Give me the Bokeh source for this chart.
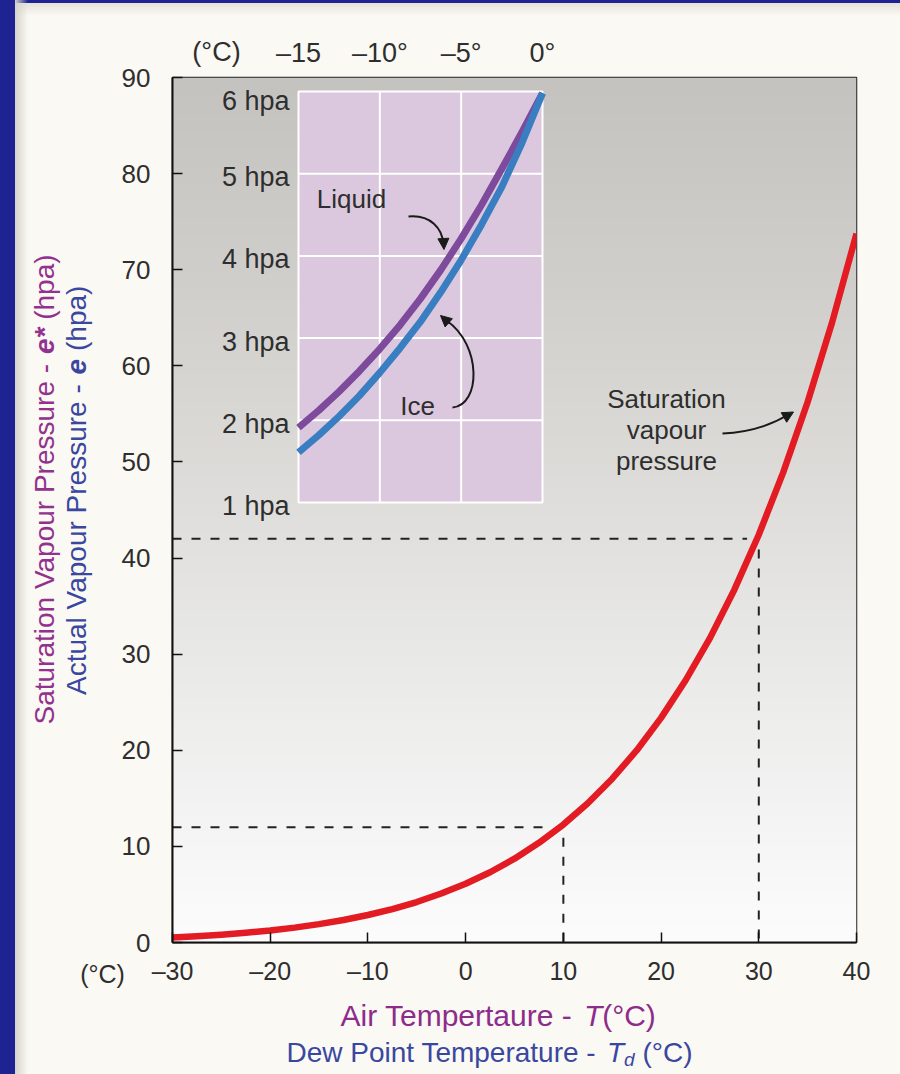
import numpy as np
from bokeh.plotting import figure
from bokeh.models import Range1d, LinearAxis, FixedTicker, Label, Arrow, NormalHead
from bokeh.embed import file_html
from bokeh.resources import INLINE
from bokeh.core.properties import value

# ---------------- data ----------------
air_temp = [-30, -27.5, -25, -22.5, -20, -17.5, -15, -12.5, -10, -7.5, -5, -2.5, 0,
            2.5, 5, 7.5, 10, 12.5, 15, 17.5, 20, 22.5, 25, 27.5, 30, 32.5, 35, 37.5, 40]
sat_vp = [0.51, 0.64, 0.81, 1.01, 1.25, 1.55, 1.91, 2.34, 2.86, 3.48, 4.21, 5.10, 6.11,
          7.31, 8.72, 10.37, 12.27, 14.49, 17.04, 19.98, 23.37, 27.26, 31.67, 36.71,
          42.43, 48.91, 56.24, 64.51, 73.75]

inset_temp = [-15, -13.75, -12.5, -11.25, -10, -8.75, -7.5, -6.25, -5, -3.75, -2.5, -1.25, 0]
liquid_vp = [1.91, 2.12, 2.35, 2.60, 2.87, 3.16, 3.48, 3.83, 4.21, 4.62, 5.06, 5.51, 5.98]
ice_vp = [1.61, 1.82, 2.05, 2.30, 2.58, 2.88, 3.20, 3.56, 3.95, 4.38, 4.84, 5.38, 5.98]

x_ticks = [-30, -20, -10, 0, 10, 20, 30, 40]
x_tick_labels = ["–30", "–20", "–10", "0", "10", "20", "30", "40"]
y_ticks = [0, 10, 20, 30, 40, 50, 60, 70, 80, 90]
inset_x_ticks = [-15, -10, -5, 0]
inset_x_labels = ["–15", "–10°", "–5°", "0°"]
inset_y_ticks = [1, 2, 3, 4, 5, 6]
inset_y_labels = ["1 hpa", "2 hpa", "3 hpa", "4 hpa", "5 hpa", "6 hpa"]

example_T = [10, 30]
example_e = [12, 42]

# ---------------- geometry helpers (page pixel -> data) ----------------
W, H = 900, 1074
FL, FR, FT, FB = 172, 856, 77, 942
def dx(px):
    return -30 + (px - FL) * 70.0 / (FR - FL)
def dy(py):
    return (FB - py) * 90.0 / (FB - FT)

# inset mapping: -15 -> 298px, 0 -> 542px ; 1 hpa -> 502px, 6 hpa -> 91px
isx = (542 - 298) / 15.0
isy = (502 - 91) / 5.0
ix0 = -15 - (298 - FL) / isx
ix1 = 0 + (FR - 542) / isx
iy0 = 1 - (FB - 502) / isy
iy1 = 6 + (91 - FT) / isy

FNAME = "Liberation Sans"
FONT = value(FNAME)
MAG = "#8e2c8c"
MAG2 = "#93318f"
BLU = "#3a47a0"
TXT = "#2e2e2e"

p = figure(frame_width=FR - FL, frame_height=FB - FT,
           x_range=Range1d(-30, 40), y_range=Range1d(0, 90),
           output_backend="svg", toolbar_location=None,
           min_border_left=FL, min_border_right=W - FR,
           min_border_top=FT, min_border_bottom=H - FB)
p.extra_x_ranges = {"ix": Range1d(ix0, ix1)}
p.extra_y_ranges = {"iy": Range1d(iy0, iy1)}
p.border_fill_color = None
p.background_fill_color = "#f0f0f0"
p.outline_line_color = "#222222"
p.outline_line_width = 1.5
p.grid.visible = False
p.styles = {"background": "linear-gradient(to right, #1f2291 0px, #1f2291 15px, #d6d3cc 15px, rgba(251,249,243,0) 28px), "
                          "linear-gradient(to bottom, #1f2291 0px, #1f2291 3px, #e4e1da 3px, #fbf9f3 16px)"}

# background gradient of plot area
gv = [0, 10, 30, 50, 70, 90]
gc = [(252, 252, 252), (246, 246, 246), (233, 233, 232), (220, 219, 216), (208, 206, 203), (197, 195, 192)]
n = 240
ys = np.linspace(0, 90, n)
img = np.zeros((n, 2), dtype=np.uint32)
view = img.view(dtype=np.uint8).reshape((n, 2, 4))
for k in range(3):
    ch = np.interp(ys, gv, [c[k] for c in gc]).astype(np.uint8)
    view[:, 0, k] = ch
    view[:, 1, k] = ch
view[:, :, 3] = 255
p.image_rgba(image=[img], x=-30, y=0, dw=70, dh=90)

# axes
xa = p.xaxis[0]
xa.ticker = FixedTicker(ticks=x_ticks)
xa.major_label_overrides = dict(zip(x_ticks, x_tick_labels))
ya = p.yaxis[0]
ya.ticker = FixedTicker(ticks=y_ticks)
for ax in (xa, ya):
    ax.major_tick_in = 10
    ax.major_tick_out = 0
    ax.minor_tick_line_color = None
    ax.axis_line_width = 2
    ax.axis_line_color = "#111111"
    ax.major_tick_line_color = "#111111"
    ax.major_tick_line_width = 1.5
    ax.major_label_text_font = FNAME
    ax.major_label_text_color = TXT
xa.major_label_text_font_size = "25px"
xa.major_label_standoff = 14
ya.major_label_text_font_size = "26px"
ya.major_label_standoff = 22

top = LinearAxis(x_range_name="ix", ticker=FixedTicker(ticks=inset_x_ticks),
                 major_label_overrides=dict(zip(inset_x_ticks, inset_x_labels)),
                 axis_line_color=None, major_tick_line_color=None, minor_tick_line_color=None,
                 major_label_standoff=4, major_label_text_font=FNAME,
                 major_label_text_font_size="27px", major_label_text_color=TXT)
p.add_layout(top, "above")

# dashed guide lines
p.segment(x0=[x_ticks[0]] * len(example_T), y0=example_e,
          x1=[t - 1.2 for t in example_T], y1=example_e,
          line_color="#222222", line_width=2, line_dash="9 10")
p.segment(x0=example_T, y0=[e - 1.1 for e in example_e],
          x1=example_T, y1=[0] * len(example_e),
          line_color="#222222", line_width=2, line_dash="9 10")

# saturation curve
p.line(air_temp, sat_vp, line_color="#e31b23", line_width=6.5, line_join="round")

# inset
p.quad(left=[inset_x_ticks[0]], right=[inset_x_ticks[-1]],
       bottom=[inset_y_ticks[0]], top=[inset_y_ticks[-1]],
       x_range_name="ix", y_range_name="iy",
       fill_color="#dcc8de", line_color="white", line_width=2)
mid_x = inset_x_ticks[1:-1]
mid_y = inset_y_ticks[1:-1]
p.segment(x0=mid_x, y0=[inset_y_ticks[0]] * len(mid_x), x1=mid_x, y1=[inset_y_ticks[-1]] * len(mid_x),
          x_range_name="ix", y_range_name="iy", line_color="white", line_width=2)
p.segment(x0=[inset_x_ticks[0]] * len(mid_y), y0=mid_y, x1=[inset_x_ticks[-1]] * len(mid_y), y1=mid_y,
          x_range_name="ix", y_range_name="iy", line_color="white", line_width=2)
p.line(inset_temp, liquid_vp, x_range_name="ix", y_range_name="iy",
       line_color="#7d4a9c", line_width=7, line_join="round")
p.line(inset_temp, ice_vp, x_range_name="ix", y_range_name="iy",
       line_color="#3a7ec2", line_width=7, line_join="round")
lx = inset_x_ticks[0] - 9 / isx
p.text(x=[lx] * 5, y=inset_y_ticks[:5], text=inset_y_labels[:5],
       x_range_name="ix", y_range_name="iy", text_align="right", text_baseline="middle",
       y_offset=3.5, text_font=FONT, text_font_size="27px", text_color=TXT)
p.text(x=[lx], y=inset_y_ticks[5:], text=inset_y_labels[5:],
       x_range_name="ix", y_range_name="iy", text_align="right", text_baseline="middle",
       y_offset=9, text_font=FONT, text_font_size="27px", text_color=TXT)

# in-frame annotation text (centres)
def lab(txt, px, py, size, color=TXT):
    p.add_layout(Label(x=dx(px), y=dy(py), text=txt, text_font=FNAME, text_font_size=size,
                       text_color=color, text_align="center", text_baseline="middle"))

lab("Liquid", 351, 198, "26px")
lab("Ice", 417, 405, "26px")
lab("Saturation", 666, 398, "26px")
lab("vapour", 666, 429, "26px")
lab("pressure", 666, 460, "26px")

# curved arrows
def curved_arrow(p0, c0, c1, p1, tip_from, tip_to):
    p.bezier(x0=[dx(p0[0])], y0=[dy(p0[1])], x1=[dx(p1[0])], y1=[dy(p1[1])],
             cx0=[dx(c0[0])], cy0=[dy(c0[1])], cx1=[dx(c1[0])], cy1=[dy(c1[1])],
             line_color="#1a1a1a", line_width=2)
    p.add_layout(Arrow(x_start=dx(tip_from[0]), y_start=dy(tip_from[1]),
                       x_end=dx(tip_to[0]), y_end=dy(tip_to[1]),
                       line_color="#1a1a1a", line_width=2,
                       end=NormalHead(size=11, fill_color="#1a1a1a", line_color="#1a1a1a", line_width=1)))

curved_arrow((408, 216), (430, 214), (442, 228), (443, 244), (443, 240), (443.5, 249))
curved_arrow((452, 407), (480, 405), (482, 345), (446, 320), (449, 323), (440, 315))
curved_arrow((722, 433), (750, 432), (770, 425), (788, 414), (786, 415.5), (793, 411.5))

# ---------------- transparent overlay (separate root) for texts outside the plot frame ----------------
ov = figure(width=W, height=H, x_range=Range1d(0, W), y_range=Range1d(0, H),
            output_backend="svg", toolbar_location=None,
            x_axis_location=None, y_axis_location=None, min_border=0)
ov.min_border_left = 0
ov.min_border_right = 0
ov.min_border_top = 0
ov.min_border_bottom = 0
ov.border_fill_color = None
ov.background_fill_color = None
ov.outline_line_color = None
ov.grid.visible = False
ov.styles = {"position": "absolute", "top": "0px", "left": "0px"}

def otext(txt, px, py, size, color=TXT, align="left", style="normal", angle=0.0):
    # (px, py) = start (or centre) of the text, vertically centred
    ov.text(x=[px], y=[H - py], text=[txt], text_font=FONT, text_font_size=size,
            text_color=color, text_align=align, text_baseline="middle",
            text_font_style=style, angle=angle)

otext("(°C)", 216, 51, "27px", align="center")
otext("(°C)", 102, 973, "25px", align="center")

otext("Air Tempertaure - ", 340, 1015, "30px", MAG)
otext("T", 583.4, 1015, "30px", MAG, style="italic")
otext("(°C)", 601.7, 1015, "30px", MAG)
otext("Dew Point Temperature - ", 286, 1052, "28px", BLU)
otext("T", 606.5, 1052, "28px", BLU, style="italic")
otext("d", 623.6, 1059, "19px", BLU, style="italic")
otext("(°C)", 642, 1052, "28px", BLU)

A = np.pi / 2
otext("Saturation Vapour Pressure - ", 43.5, 724, "28px", MAG2, angle=A)
otext("e*", 43.5, 353.6, "28px", MAG2, style="bold italic", angle=A)
otext("(hpa)", 43.5, 319.3, "28px", MAG2, angle=A)
otext("Actual Vapour Pressure - ", 75.5, 694.5, "28px", BLU, angle=A)
otext("e", 75.5, 373.9, "28px", BLU, style="bold italic", angle=A)
otext("(hpa)", 75.5, 350.5, "28px", BLU, angle=A)

open("out.html", "w").write(file_html([p, ov], INLINE))
